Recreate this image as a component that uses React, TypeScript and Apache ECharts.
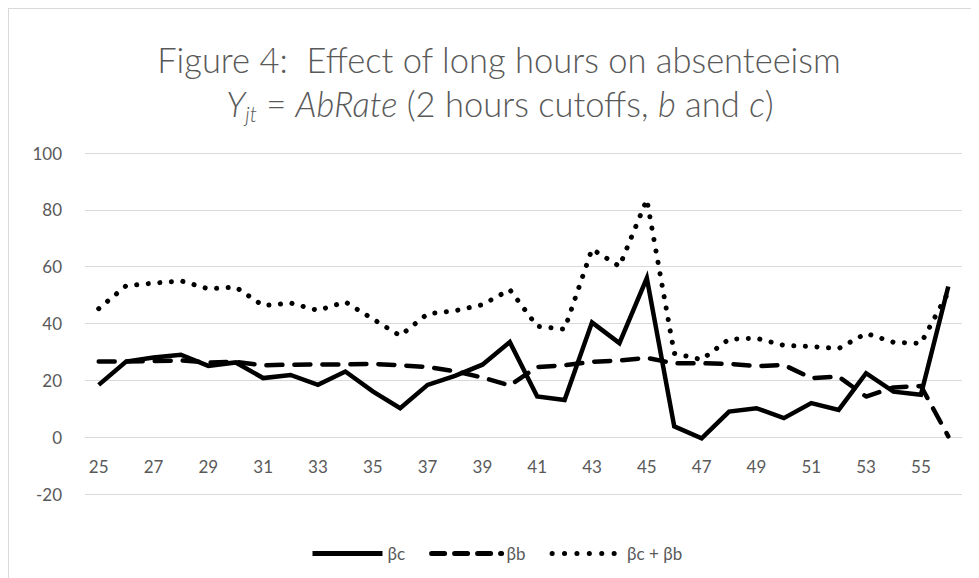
import React, { useEffect, useRef } from "react";
import * as echarts from "echarts";

const categories: string[] = [
  "25", "26", "27", "28", "29", "30", "31", "32", "33", "34", "35", "36", "37", "38", "39", "40",
  "41", "42", "43", "44", "45", "46", "47", "48", "49", "50", "51", "52", "53", "54", "55", "56",
];

const betaC: number[] = [
  18.4, 26.6, 28.0, 29.0, 25.1, 26.3, 20.8, 21.9, 18.4, 23.1, 16.1, 10.2, 18.4, 21.6, 25.5, 33.5,
  14.3, 13.1, 40.4, 33.1, 56.0, 3.8, -0.4, 9.0, 10.2, 6.7, 12.0, 9.6, 22.5, 16.0, 14.9, 53.0,
];

const betaB: number[] = [
  26.6, 26.6, 26.8, 27.0, 26.3, 26.5, 25.3, 25.5, 25.6, 25.6, 25.8, 25.3, 24.7, 23.2, 21.0, 18.2,
  24.7, 25.3, 26.5, 27.0, 27.9, 26.0, 26.0, 25.8, 25.0, 25.4, 20.8, 21.3, 14.3, 17.5, 18.0, 0.3,
];

const betaSum: number[] = [
  45.2, 53.3, 54.2, 55.0, 52.2, 52.8, 46.3, 47.2, 44.6, 47.6, 41.6, 35.7, 43.4, 44.5, 46.6, 51.9,
  39.0, 38.0, 66.2, 60.1, 83.6, 29.5, 27.3, 34.5, 34.8, 32.3, 31.9, 31.2, 36.5, 33.4, 33.0, 51.0,
];

const seriesNames: string[] = ["βc", "βb", "βc + βb"];
const yTicks = { min: -20, max: 100, interval: 20 };

const TEXT = "#595959";
const GRID = "#d9d9d9";
const FONT = "Lato, 'Liberation Sans', sans-serif";

export default function App() {
  const ref = useRef<HTMLDivElement>(null);

  useEffect(() => {
    if (!ref.current) return;
    const chart = echarts.init(ref.current, undefined, { renderer: "svg" });

    const solid = { color: "#000", width: 4.5, type: "solid" as const, cap: "butt" as const, join: "miter" as const };
    const dashed = { color: "#000", width: 4.5, type: [16, 12], cap: "round" as const, join: "round" as const };
    const dotted = { color: "#000", width: 5, type: [0.1, 11.5], cap: "round" as const, join: "round" as const };

    const gridTop = 145;
    const gridBottom = 84;
    const plotHeight = 570 - gridTop - gridBottom;
    const zeroOffset = -plotHeight * ((0 - yTicks.min) / (yTicks.max - yTicks.min));

    const hiddenSymbol = { color: "#000", opacity: 0, borderWidth: 0 };

    chart.setOption({
      animation: false,
      textStyle: { fontFamily: FONT },
      graphic: [
        {
          type: "line",
          shape: { x1: 0, y1: 0.5, x2: 971, y2: 0.5 },
          style: { stroke: GRID, lineWidth: 1 },
        },
        {
          type: "line",
          shape: { x1: 0.5, y1: 0, x2: 0.5, y2: 570 },
          style: { stroke: GRID, lineWidth: 1 },
        },
        {
          type: "text",
          x: 491,
          y: 51,
          style: {
            text: "Figure 4:  Effect of long hours on absenteeism",
            fill: TEXT,
            font: `300 34.5px ${FONT}`,
            align: "center",
            verticalAlign: "middle",
          },
        },
        {
          type: "text",
          x: 492,
          y: 95,
          style: {
            text: "{i|Y}{sub|jt}{n| = }{i|AbRate}{n| (2 hours cutoffs, }{i|b}{n| and }{i|c}{n|)}",
            fill: TEXT,
            font: `300 34.5px ${FONT}`,
            align: "center",
            verticalAlign: "middle",
            rich: {
              n: { fontFamily: FONT, fontSize: 34.5, fontWeight: 300, fill: TEXT, lineHeight: 42 },
              i: { fontFamily: FONT, fontSize: 34.5, fontWeight: 300, fontStyle: "italic", fill: TEXT, lineHeight: 42 },
              sub: {
                fontFamily: FONT,
                fontSize: 21,
                fontWeight: 300,
                fontStyle: "italic",
                fill: TEXT,
                lineHeight: 22,
                verticalAlign: "bottom",
              },
            },
          },
        },
      ],
      grid: { left: 77, right: 17, top: gridTop, bottom: gridBottom, containLabel: false },
      xAxis: {
        type: "category",
        data: categories,
        boundaryGap: true,
        position: "bottom",
        offset: zeroOffset,
        axisLine: { show: true, onZero: false, lineStyle: { color: GRID, width: 1 } },
        axisTick: { show: false },
        axisLabel: { interval: 1, color: TEXT, fontSize: 17, margin: 21, fontFamily: FONT },
        splitLine: { show: false },
      },
      yAxis: {
        type: "value",
        min: yTicks.min,
        max: yTicks.max,
        interval: yTicks.interval,
        axisLine: { show: false },
        axisTick: { show: false },
        axisLabel: { color: TEXT, fontSize: 17, margin: 23, fontFamily: FONT },
        splitLine: { lineStyle: { color: GRID, width: 1 } },
      },
      legend: {
        left: 297,
        top: 532,
        itemWidth: 70,
        itemHeight: 14,
        itemGap: 24,
        itemStyle: hiddenSymbol,
        textStyle: { color: TEXT, fontSize: 17, fontFamily: FONT },
        data: [
          { name: seriesNames[0], itemStyle: hiddenSymbol, lineStyle: { ...solid, width: 5 } },
          { name: seriesNames[1], itemStyle: hiddenSymbol, lineStyle: { ...dashed, width: 5, type: [13, 10] } },
          { name: seriesNames[2], itemStyle: hiddenSymbol, lineStyle: { ...dotted, width: 5, type: [0.1, 12.3] } },
        ],
      },
      series: [
        { type: "line", name: seriesNames[0], data: betaC, symbol: "none", showSymbol: false, itemStyle: { color: "#000" }, lineStyle: solid },
        { type: "line", name: seriesNames[1], data: betaB, symbol: "none", showSymbol: false, itemStyle: { color: "#000" }, lineStyle: dashed },
        { type: "line", name: seriesNames[2], data: betaSum, symbol: "none", showSymbol: false, itemStyle: { color: "#000" }, lineStyle: dotted },
      ],
    });

    return () => {
      chart.dispose();
    };
  }, []);

  return <div ref={ref} style={{ width: 971, height: 570 }} />;
}
